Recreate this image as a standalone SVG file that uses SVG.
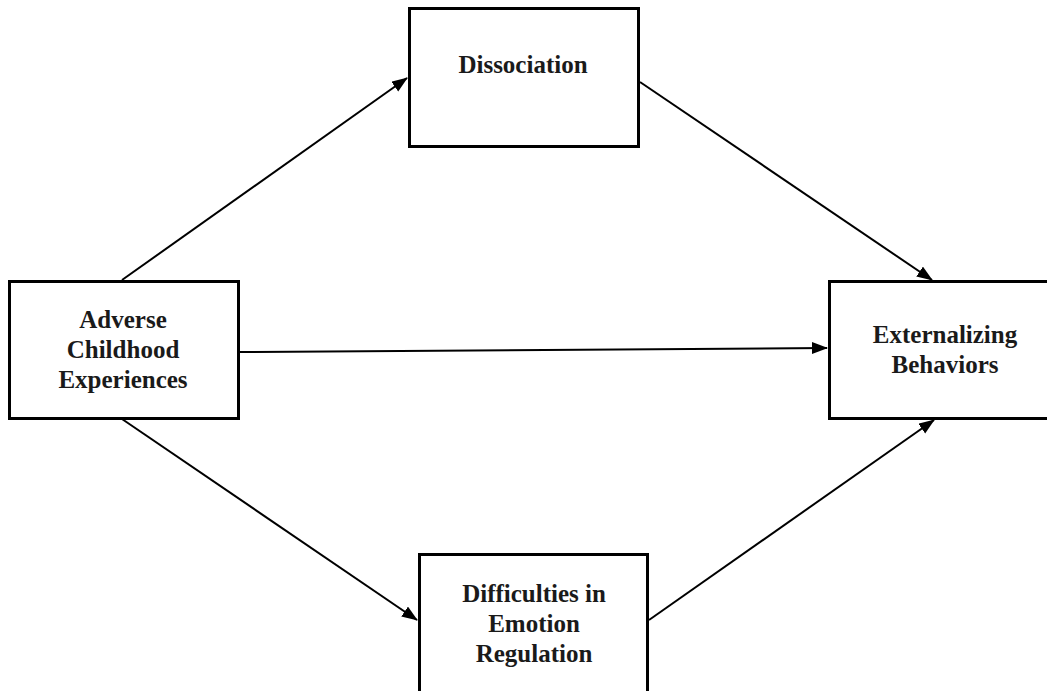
<svg xmlns="http://www.w3.org/2000/svg" width="1047" height="691" viewBox="0 0 1047 691">
<style>
.box{fill:#fff;stroke:#000;stroke-width:3}
.lbl{font-family:"Liberation Serif","Times New Roman",serif;font-size:25px;font-weight:bold;fill:#1a1a1a;text-anchor:middle}
.con{stroke:#000;stroke-width:2;fill:none}
</style>
<defs>
<marker id="ah" markerUnits="userSpaceOnUse" markerWidth="18" markerHeight="14" refX="15" refY="6" orient="auto">
<path d="M0,0 L16,6 L0,12 z" fill="#000"/>
</marker>
</defs>
<rect width="1047" height="691" fill="#fff"/>
<g id="connectors">
<line class="con" x1="122" y1="280" x2="407" y2="78" marker-end="url(#ah)"/>
<line class="con" x1="640" y1="82" x2="932" y2="280" marker-end="url(#ah)"/>
<line class="con" x1="239" y1="352" x2="827" y2="348" marker-end="url(#ah)"/>
<line class="con" x1="122" y1="419" x2="417" y2="620" marker-end="url(#ah)"/>
<line class="con" x1="649" y1="620" x2="934" y2="420" marker-end="url(#ah)"/>
</g>
<g id="adverse">
<rect class="box" x="9.5" y="281.5" width="229" height="137"/>
<text class="lbl" x="123" y="328">Adverse</text>
<text class="lbl" x="123" y="358">Childhood</text>
<text class="lbl" x="123" y="388">Experiences</text>
</g>
<g id="dissociation">
<rect class="box" x="409.5" y="8.5" width="229" height="138"/>
<text class="lbl" x="523" y="73">Dissociation</text>
</g>
<g id="difficulties">
<rect class="box" x="419.5" y="554.5" width="228" height="150"/>
<text class="lbl" x="534" y="602">Difficulties in</text>
<text class="lbl" x="534" y="632">Emotion</text>
<text class="lbl" x="534" y="662">Regulation</text>
</g>
<g id="externalizing">
<rect class="box" x="829.5" y="281.5" width="230" height="137"/>
<text class="lbl" x="945" y="343">Externalizing</text>
<text class="lbl" x="945" y="373">Behaviors</text>
</g>
</svg>
